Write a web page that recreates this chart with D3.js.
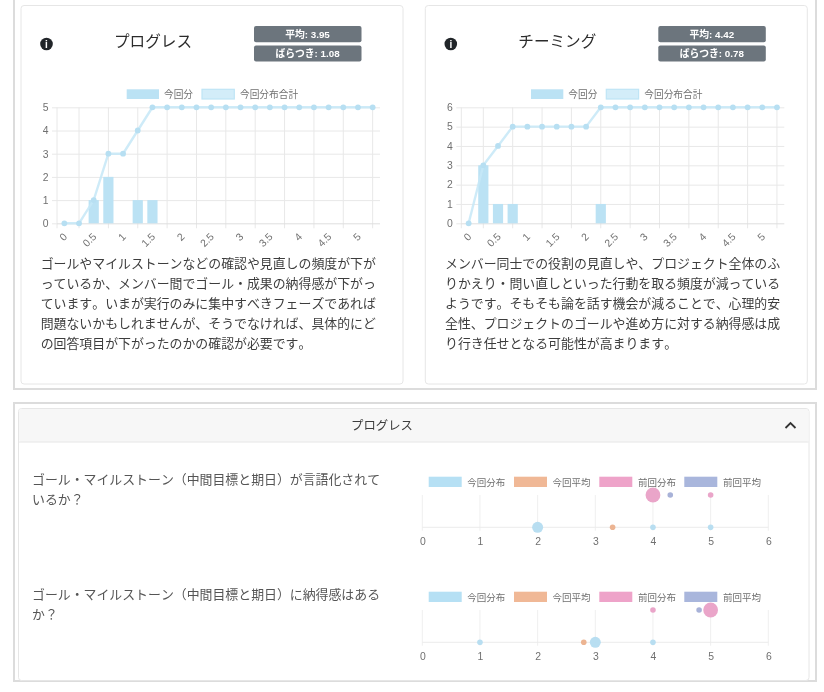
<!DOCTYPE html>
<html>
<head>
<meta charset="utf-8">
<script src="https://cdn.jsdelivr.net/npm/d3@7"></script>
<style>
    html, body { margin: 0; padding: 0; background: #fff; overflow: hidden; }
    svg { display: block; filter: blur(0.5px); font-family: "Noto Sans CJK JP", sans-serif; font-kerning: none; }
    .num { font-family: "Liberation Sans", sans-serif; }
</style>
</head>
<body>
<svg class="page" width="824" height="692"></svg>
<script>
// score buckets on the x axis, only every 2nd one gets a label
const scoreBins = ["0","0.25","0.5","0.75","1","1.25","1.5","1.75","2","2.25","2.5","2.75","3","3.25","3.5","3.75","4","4.25","4.5","4.75","5","5.25"];

const progressBars = [0,0,1,2,0,1,1,0,0,0,0,0,0,0,0,0,0,0,0,0,0,0];
const progressTotal = [0,0,1,3,3,4,5,5,5,5,5,5,5,5,5,5,5,5,5,5,5,5];
const teamingBars = [0,3,1,1,0,0,0,0,0,1,0,0,0,0,0,0,0,0,0,0,0,0];
const teamingTotal = [0,3,4,5,5,5,5,5,5,6,6,6,6,6,6,6,6,6,6,6,6,6];

const progressText = [
    "ゴールやマイルストーンなどの確認や見直しの頻度が下が",
    "っているか、メンバー間でゴール・成果の納得感が下がっ",
    "ています。いまが実行のみに集中すべきフェーズであれば",
    "問題ないかもしれませんが、そうでなければ、具体的にど",
    "の回答項目が下がったのかの確認が必要です。"
];
const teamingText = [
    "メンバー同士での役割の見直しや、プロジェクト全体のふ",
    "りかえり・問い直しといった行動を取る頻度が減っている",
    "ようです。そもそも論を話す機会が減ることで、心理的安",
    "全性、プロジェクトのゴールや進め方に対する納得感は成",
    "り行き任せとなる可能性が高まります。"
];

const barLegend = ["今回分", "今回分布合計"];
const bubbleLegend = ["今回分布", "今回平均", "前回分布", "前回平均"];

// [score, number of answers]
const q1Now = [[2,2],[4,1],[5,1]];
const q1NowMean = 3.3;
const q1Prev = [[4,3],[5,1]];
const q1PrevMean = 4.3;
const q2Now = [[1,1],[3,2],[4,1]];
const q2NowMean = 2.8;
const q2Prev = [[4,1],[5,3]];
const q2PrevMean = 4.8;

const svg = d3.select("svg.page");
const textColor = "#3d3d3d";
const tickColor = "#707070";
const gridColor = "#e8e8e8";

// bubble radius from answer count
const bubbleSize = d3.scaleLinear().domain([1, 2, 3]).range([2.8, 5.5, 7.4]);

function addLines(lines, x, y, pitch, size, color) {
    lines.forEach((line, i) => {
        svg.append("text")
            .attr("x", x)
            .attr("y", y + i * pitch)
            .attr("dominant-baseline", "central")
            .style("font-size", size + "px")
            .style("fill", color)
            .text(line);
    });
}

function drawCard(left, title, average, spread, bars, total, yMax, bodyText) {
    svg.append("rect")
        .attr("x", left + 1).attr("y", 5.5)
        .attr("width", 382).attr("height", 378.5)
        .attr("rx", 3)
        .style("fill", "#fff").style("stroke", "#e6e6e6");

    const icon = svg.append("g").attr("transform", `translate(${left + 26.5},44)`);
    icon.append("circle").attr("r", 6.3).style("fill", "#212529");
    icon.append("text")
        .attr("class", "num")
        .attr("text-anchor", "middle").attr("y", 3.6)
        .style("font-size", "10px").style("font-weight", "bold").style("fill", "#fff")
        .text("i");

    svg.append("text")
        .attr("x", left + 133).attr("y", 40)
        .attr("text-anchor", "middle").attr("dominant-baseline", "central")
        .style("font-size", "15.6px").style("fill", "#2b2b2b")
        .text(title);

    [`平均: ${average}`, `ばらつき: ${spread}`].forEach((label, i) => {
        const top = i === 0 ? 26 : 45.4;
        svg.append("rect")
            .attr("x", left + 234).attr("y", top)
            .attr("width", 107.5).attr("height", 16.2)
            .attr("rx", 2)
            .style("fill", "#6c757d");
        svg.append("text")
            .attr("x", left + 287.5).attr("y", top + 8)
            .attr("text-anchor", "middle").attr("dominant-baseline", "central")
            .style("font-family", '"Liberation Sans", "Noto Sans CJK JP", sans-serif')
            .style("font-size", "9.8px").style("font-weight", "bold").style("fill", "#fff")
            .text(label);
    });

    // legend
    svg.append("rect")
        .attr("x", left + 106.7).attr("y", 89.3).attr("width", 32.3).attr("height", 9.7)
        .style("fill", "#bbe2f4");
    svg.append("text")
        .attr("x", left + 144).attr("y", 94)
        .attr("dominant-baseline", "central")
        .style("font-size", "9.7px").style("fill", tickColor)
        .text(barLegend[0]);
    svg.append("rect")
        .attr("x", left + 182).attr("y", 89.3).attr("width", 32.3).attr("height", 9.7)
        .style("fill", "#d3edf9").style("stroke", "#bfe5f6").style("stroke-width", 1.2);
    svg.append("text")
        .attr("x", left + 220).attr("y", 94)
        .attr("dominant-baseline", "central")
        .style("font-size", "9.7px").style("fill", tickColor)
        .text(barLegend[1]);

    const x = d3.scaleBand().domain(scoreBins).range([left + 37, left + 360]);
    const y = d3.scaleLinear().domain([0, yMax]).range([223.3, 107.3]);
    const center = d => x(d) + x.bandwidth() / 2;
    const barWidth = 10.2;

    // grid: gridlines fall on every 2nd bucket (odd ones), plus the left edge
    const gridBins = scoreBins.filter((d, i) => i % 2 === 1);
    svg.append("g").selectAll("line")
        .data(gridBins)
        .enter().append("line")
        .attr("x1", d => center(d)).attr("x2", d => center(d))
        .attr("y1", y(yMax)).attr("y2", y(0) + 5)
        .style("stroke", gridColor);
    svg.append("line")
        .attr("x1", left + 37).attr("x2", left + 37)
        .attr("y1", y(yMax)).attr("y2", y(0) + 5)
        .style("stroke", gridColor);

    const yAxis = svg.append("g")
        .attr("class", "num")
        .attr("transform", `translate(${left + 37},0)`)
        .call(d3.axisLeft(y).tickValues(d3.range(0, yMax + 1)).tickFormat(d3.format("d")).tickSize(5).tickPadding(3.5));
    yAxis.select(".domain").remove();
    yAxis.selectAll("line").style("stroke", gridColor);
    yAxis.selectAll("text").style("font-size", "10.4px").style("fill", tickColor).style("font-family", "Liberation Sans");
    yAxis.selectAll(".tick").append("line")
        .attr("x1", 0).attr("x2", 323)
        .style("stroke", d => d === 0 ? "#dedede" : gridColor);

    const xAxis = svg.append("g")
        .attr("transform", "translate(0,223.3)")
        .call(d3.axisBottom(x).tickValues(scoreBins.filter((d, i) => i % 2 === 0)).tickSize(0));
    xAxis.select(".domain").remove();
    xAxis.selectAll("text")
        .attr("text-anchor", "end")
        .attr("dx", 0)
        .attr("dy", 0)
        .attr("y", 0)
        .attr("transform", "translate(3.5,14) rotate(-45)")
        .style("font-size", "10.4px")
        .style("font-family", "Liberation Sans")
        .style("fill", tickColor);

    svg.append("g").selectAll("rect")
        .data(scoreBins)
        .enter().append("rect")
        .attr("x", d => center(d) - barWidth / 2)
        .attr("y", (d, i) => y(bars[i]))
        .attr("width", barWidth)
        .attr("height", (d, i) => y(0) - y(bars[i]))
        .style("fill", "#bbe2f4");

    const line = d3.line()
        .x((d, i) => center(scoreBins[i]))
        .y(d => y(d));
    svg.append("path")
        .datum(total)
        .attr("d", line)
        .style("fill", "none")
        .style("stroke", "#c6e8f7")
        .style("stroke-width", 2.4)
        .style("opacity", 0.85);
    svg.append("g").selectAll("circle")
        .data(total)
        .enter().append("circle")
        .attr("cx", (d, i) => center(scoreBins[i]))
        .attr("cy", d => y(d))
        .attr("r", 2.9)
        .style("fill", "#b7dff2");

    addLines(bodyText, left + 20.7, 262.7, 20, 12.9, textColor);
}

function drawBubbles(top, now, nowMean, prev, prevMean) {
    const x = d3.scaleLinear().domain([0, 6]).range([422.3, 768.3]);
    const y = d3.scalePoint().domain(["前回", "今回"]).range([top + 18, top + 50.3]);
    const base = y("今回");

    const legendColors = ["#b6e0f4", "#f0b896", "#eea3c9", "#a9b6dc"];
    const swatchLeft = [428.7, 514, 599.3, 684.3];
    bubbleLegend.forEach((label, i) => {
        svg.append("rect")
            .attr("x", swatchLeft[i]).attr("y", top - 0.3)
            .attr("width", 33).attr("height", 10.3)
            .style("fill", legendColors[i]);
        svg.append("text")
            .attr("x", swatchLeft[i] + 38.6).attr("y", top + 4.7)
            .attr("dominant-baseline", "central")
            .style("font-size", "9.5px").style("fill", tickColor)
            .text(label);
    });

    const axis = svg.append("g")
        .attr("class", "num")
        .attr("transform", `translate(0,${base + 3.4})`)
        .call(d3.axisBottom(x).tickValues(d3.range(0, 7)).tickFormat(d3.format("d")).tickSize(0).tickPadding(6.5));
    axis.select(".domain").remove();
    axis.selectAll("text").style("font-size", "10.4px").style("fill", tickColor).style("font-family", "Liberation Sans");

    svg.append("g").selectAll("line")
        .data(d3.range(0, 7))
        .enter().append("line")
        .attr("x1", d => x(d)).attr("x2", d => x(d))
        .attr("y1", y("前回")).attr("y2", base + 3.4)
        .style("stroke", "#efefef");
    svg.append("line")
        .attr("x1", x(0)).attr("x2", x(6))
        .attr("y1", base).attr("y2", base)
        .style("stroke", "#ebebeb");

    const addDots = (rows, row, color) => {
        svg.append("g").selectAll("circle")
            .data(rows)
            .enter().append("circle")
            .attr("cx", d => x(d[0]))
            .attr("cy", y(row))
            .attr("r", d => bubbleSize(d[1]))
            .style("fill", color)
            .style("opacity", 0.95);
    };
    addDots(now, "今回", "#b4dcf0");
    addDots([[nowMean, 1]], "今回", "#ebb08c");
    addDots(prev, "前回", "#e9a0c6");
    addDots([[prevMean, 1]], "前回", "#a3aed6");
}

// outer frames, the top one is cut off by the window
svg.append("rect").attr("x", 14).attr("y", -10).attr("width", 802).attr("height", 399)
    .style("fill", "none").style("stroke", "#dcdcdc").style("stroke-width", 2);
svg.append("rect").attr("x", 14).attr("y", 403).attr("width", 802).attr("height", 278)
    .style("fill", "none").style("stroke", "#dcdcdc").style("stroke-width", 2);

drawCard(20, "プログレス", "3.95", "1.08", progressBars, progressTotal, 5, progressText);
drawCard(424.3, "チーミング", "4.42", "0.78", teamingBars, teamingTotal, 6, teamingText);

// accordion panel
svg.append("rect").attr("x", 18.5).attr("y", 408.5).attr("width", 790.5).attr("height", 272)
    .attr("rx", 3)
    .style("fill", "#fff").style("stroke", "#e6e6e6");
svg.append("rect").attr("x", 19).attr("y", 409).attr("width", 789.5).attr("height", 33)
    .attr("rx", 3)
    .style("fill", "#f7f7f7");
svg.append("line").attr("x1", 19).attr("x2", 808.5).attr("y1", 442).attr("y2", 442)
    .style("stroke", "#e6e6e6");
svg.append("text")
    .attr("x", 382).attr("y", 424.5)
    .attr("text-anchor", "middle").attr("dominant-baseline", "central")
    .style("font-size", "12.4px").style("fill", textColor)
    .text("プログレス");
svg.append("path")
    .attr("d", d3.line()([[785.5, 428], [790.5, 423], [795.5, 428]]))
    .style("fill", "none").style("stroke", "#333").style("stroke-width", 1.8);

addLines(["ゴール・マイルストーン（中間目標と期日）が言語化されて", "いるか？"], 32, 478.3, 20.5, 12.9, "#555");
addLines(["ゴール・マイルストーン（中間目標と期日）に納得感はある", "か？"], 32, 593, 20.5, 12.9, "#555");

drawBubbles(477, q1Now, q1NowMean, q1Prev, q1PrevMean);
drawBubbles(592, q2Now, q2NowMean, q2Prev, q2PrevMean);
</script>
</body>
</html>
